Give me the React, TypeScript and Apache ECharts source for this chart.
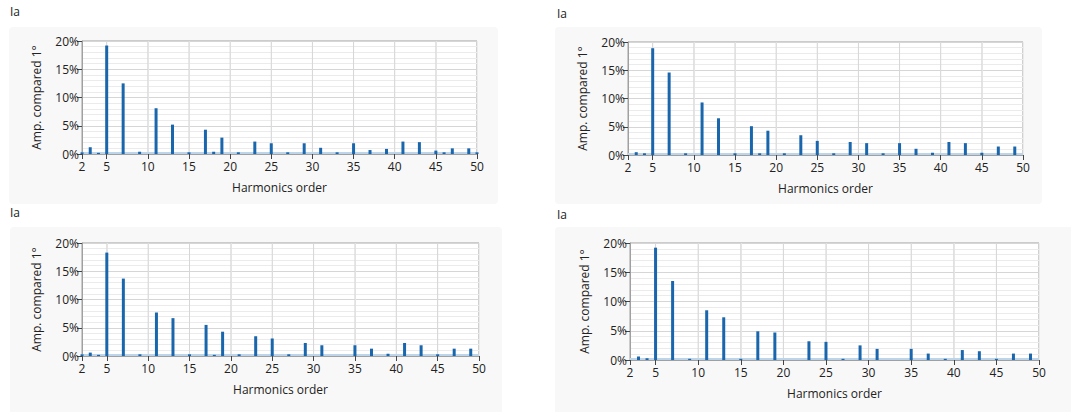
import React, { useEffect, useRef } from "react";
import * as echarts from "echarts";

const harmonicOrders = [2,3,4,5,6,7,8,9,10,11,12,13,14,15,16,17,18,19,20,21,22,23,24,25,26,27,28,29,30,31,32,33,34,35,36,37,38,39,40,41,42,43,44,45,46,47,48,49,50];

const panel1Values = [0.3,1.2,0.2,19.2,0,12.5,0,0.4,0,8.1,0,5.2,0,0.3,0,4.3,0.4,2.9,0,0.3,0,2.2,0,1.9,0,0.3,0,1.9,0,1.1,0,0.3,0,1.9,0,0.7,0,0.9,0,2.2,0,2.1,0,0.6,0.3,1.0,0,1.0,0.3];
const panel2Values = [0,0.5,0.3,18.9,0,14.6,0,0.3,0,9.3,0,6.5,0,0.3,0,5.1,0.3,4.3,0,0.3,0,3.5,0,2.5,0,0.3,0,2.3,0,2.1,0,0.3,0,2.1,0,1.1,0,0.4,0,2.3,0,2.1,0,0.4,0,1.5,0,1.5,0];
const panel3Values = [0.3,0.6,0.2,18.3,0,13.7,0,0.3,0,7.7,0,6.7,0,0.3,0,5.5,0.2,4.3,0,0.3,0,3.5,0,3.1,0,0.3,0,2.3,0,1.9,0,0,0,1.9,0,1.3,0,0.4,0,2.3,0,1.9,0,0.3,0,1.3,0,1.3,0];
const panel4Values = [0,0.6,0.3,19.2,0,13.5,0,0.2,0,8.5,0,7.3,0,0.2,0,4.9,0,4.7,0,0,0,3.2,0,3.1,0,0.2,0,2.5,0,1.9,0,0,0,1.9,0,1.1,0,0.2,0,1.7,0,1.5,0,0.2,0,1.1,0,1.1,0];

const xTickLabels = [2,5,10,15,20,25,30,35,40,45,50];
const majorXLines = [5,10,15,20,25,30,35,40,45];
const panelTitle = "Ia";
const yAxisName = "Amp. compared 1°";
const xAxisName = "Harmonics order";

const FONT = "'Open Sans', 'Noto Sans', sans-serif";

const panels = [
  { values: panel1Values, grid: { left: 82, top: 41, width: 395, height: 113 }, box: [9, 27, 489, 177], title: [10, 5] },
  { values: panel2Values, grid: { left: 628, top: 42, width: 395, height: 113 }, box: [555, 27, 487, 177], title: [557, 7] },
  { values: panel3Values, grid: { left: 82, top: 243, width: 397, height: 113 }, box: [10, 227, 492, 190], title: [10, 206] },
  { values: panel4Values, grid: { left: 630, top: 243, width: 409, height: 117 }, box: [555, 227, 520, 190], title: [557, 208] },
];

export default function App() {
  const ref = useRef<HTMLDivElement>(null);
  useEffect(() => {
    if (!ref.current) return;
    const chart = echarts.init(ref.current, null, { renderer: "svg" });
    const grids: any[] = [];
    const xAxes: any[] = [];
    const yAxes: any[] = [];
    const series: any[] = [];
    const graphics: any[] = [];
    panels.forEach((p, i) => {
      graphics.push({
        type: "rect",
        shape: { x: p.box[0], y: p.box[1], width: p.box[2], height: p.box[3], r: 4 },
        style: { fill: "#f8f8f8" },
        z: -10,
        silent: true,
      });
      graphics.push({
        type: "text",
        x: p.title[0],
        y: p.title[1],
        style: { text: panelTitle, font: `12px ${FONT}`, fill: "#222" },
      });
      grids.push({
        ...p.grid,
        show: true,
        backgroundColor: "#ffffff",
        borderColor: "#a0a0a0",
        borderWidth: 1,
        containLabel: false,
      });
      xAxes.push({
        gridIndex: i,
        type: "value",
        min: 2,
        max: 50,
        interval: 1,
        name: xAxisName,
        nameLocation: "middle",
        nameGap: 27,
        nameTextStyle: { fontFamily: FONT, fontSize: 12, color: "#222" },
        axisLine: { show: true, lineStyle: { color: "#a0a0a0" } },
        axisTick: { show: true, customValues: xTickLabels, length: 5, lineStyle: { color: "#444" } },
        axisLabel: { customValues: xTickLabels, fontFamily: FONT, fontSize: 12, color: "#222", margin: 6 },
        splitLine: { show: true, lineStyle: { color: "#ebebeb", width: 1 } },
      });
      yAxes.push({
        gridIndex: i,
        type: "value",
        min: 0,
        max: 20,
        interval: 5,
        name: yAxisName,
        nameLocation: "middle",
        nameGap: 40,
        nameTextStyle: { fontFamily: FONT, fontSize: 12, color: "#222" },
        axisLine: { show: true, lineStyle: { color: "#a0a0a0" } },
        axisTick: { show: true, length: 5, lineStyle: { color: "#444" } },
        axisLabel: { formatter: "{value}%", fontFamily: FONT, fontSize: 12, color: "#222", margin: 3 },
        splitLine: { show: true, lineStyle: { color: "#d6d6d6", width: 1 } },
        minorTick: { show: false, splitNumber: 5 },
        minorSplitLine: { show: true, lineStyle: { color: "#ebebeb", width: 1 } },
      });
      majorXLines.forEach((v) => {
        series.push({
          type: "line",
          xAxisIndex: i,
          yAxisIndex: i,
          data: [[v, 0], [v, 20]],
          symbol: "none",
          silent: true,
          z: 0,
          lineStyle: { color: "#d6d6d6", width: 1 },
        });
      });
      series.push({
        type: "scatter",
        xAxisIndex: i,
        yAxisIndex: i,
        data: [],
        silent: true,
        z: 1,
        markArea: {
          silent: true,
          itemStyle: { color: "#bcd5ea" },
          data: [[{ yAxis: 0 }, { yAxis: 0.35 }]],
        },
      });
      series.push({
        type: "bar",
        xAxisIndex: i,
        yAxisIndex: i,
        barWidth: 3,
        z: 3,
        itemStyle: { color: "#1a66ad" },
        data: harmonicOrders.map((h, k) => [h, p.values[k]]),
      });
    });
    chart.setOption({
      animation: false,
      textStyle: { fontFamily: FONT },
      graphic: graphics,
      grid: grids,
      xAxis: xAxes,
      yAxis: yAxes,
      series,
    });
    return () => chart.dispose();
  }, []);
  return (
    <div
      ref={ref}
      style={{ position: "fixed", left: 0, top: 0, width: 1071, height: 412, background: "#ffffff" }}
    />
  );
}
